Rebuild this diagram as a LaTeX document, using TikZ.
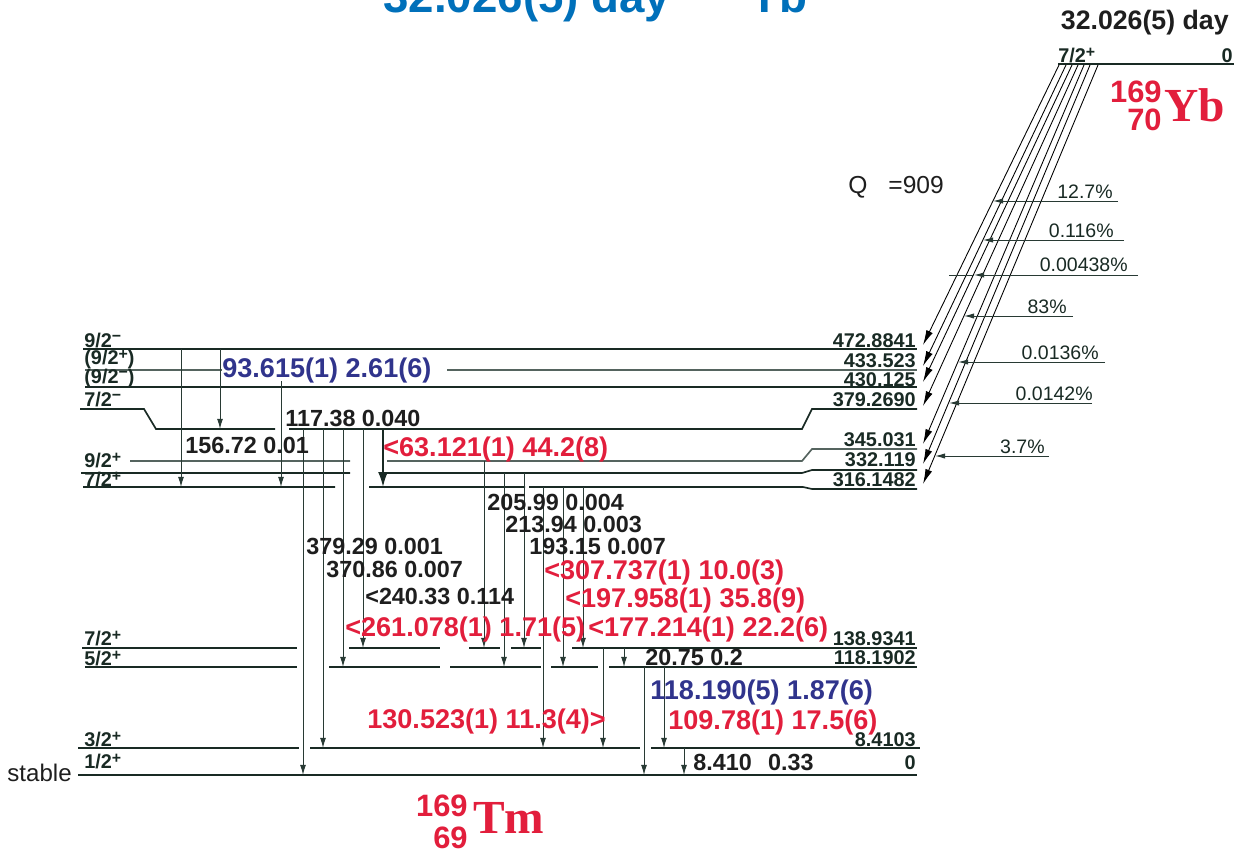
\documentclass[tikz,border=0pt]{standalone}
\usepackage{fontspec}
\setmainfont{Liberation Sans}
\newfontfamily\nucfont{Liberation Serif}
\usepackage{xcolor}
\usetikzlibrary{arrows.meta}
\definecolor{nred}{RGB}{226,30,60}
\definecolor{nblue}{RGB}{48,52,140}
\definecolor{tblue}{RGB}{0,112,186}
\definecolor{lvlc}{RGB}{25,42,36}
\definecolor{lvlg}{RGB}{85,100,95}
\definecolor{gamc}{RGB}{40,58,52}
\definecolor{txtc}{RGB}{30,30,30}
\newcommand{\sgnp}{\raisebox{0.45ex}{\scalebox{0.8}{+}}}
\newcommand{\sgnm}{\raisebox{0.55ex}{\scalebox{0.8}{−}}}
\tikzset{
  lvl/.style={draw=lvlc, line width=0.95pt},
  lvlgray/.style={draw=lvlg, line width=0.95pt},
  gam/.style={draw=gamc, line width=0.55pt, -{Latex[length=5.8pt,width=3.4pt]}},
  gamthick/.style={draw=lvlc, line width=1pt, -{Latex[length=8.5pt,width=5.6pt]}},
  beta/.style={draw=black, line width=0.5pt, -{Latex[length=8.5pt,width=4pt]}},
  intens/.style={draw=gamc, line width=0.55pt, -{Latex[length=5.7pt,width=3pt]}},
  glab/.style={font=\fontsize{13.3}{15}\selectfont\bfseries, text=txtc, inner sep=0pt, anchor=base west},
  rlab/.style={glab, font=\fontsize{15.4}{17}\selectfont\bfseries, text=nred},
  blab/.style={rlab, text=nblue},
  elab/.style={font=\fontsize{11.3}{13}\selectfont\bfseries, text=lvlc, inner sep=0pt, anchor=base east},
  slab/.style={elab, anchor=base west},
  plab/.style={font=\fontsize{11.1}{13}\selectfont, text=lvlc, inner sep=0pt, anchor=base east},
  nucnum/.style={font=\fontsize{17.6}{19}\selectfont\bfseries, text=nred, inner sep=0pt, anchor=base east},
  nucsym/.style={font=\fontsize{27}{29}\selectfont\nucfont\bfseries, text=nred, inner sep=0pt, anchor=base west},
}
\begin{document}
\begin{tikzpicture}[x=0.02cm,y=-0.02cm]
  \useasboundingbox (0,0) rectangle (1244,852);
  \clip (0,0) rectangle (1244,852);

  % title, cut at the top edge
  \node[font=\fontsize{26}{28}\selectfont\bfseries, text=tblue, inner sep=0pt, anchor=base west] (title) at (383,12) {32.026(5) day};
  \node[font=\fontsize{26}{28}\selectfont\bfseries, text=tblue, inner sep=0pt, anchor=base east] (titlenuc) at (808,12) {\textsuperscript{169}Yb};

  % parent 169Yb
  \draw[lvl] (1058,64) -- (1234,64);
  \node[slab] (pspin) at (1058,62) {7/2\sgnp};
  \node[elab] (pen) at (1233,62) {0};
  \node[font=\fontsize{15.2}{17}\selectfont\bfseries, text=txtc, inner sep=0pt, anchor=base east] (phalf) at (1229,30) {32.026(5) day};
  \node[nucnum] (ybA) at (1162,102) {169};
  \node[nucnum] (ybZ) at (1162,130) {70};
  \node[nucsym] (yb) at (1164,121) {Yb};
  \node[font=\fontsize{14}{16}\selectfont, text=txtc, inner sep=0pt, anchor=base west] (qval) at (848,193) {Q\hspace{0.85em}=909};

  % beta branches
  \foreach \bx/\by in {1059/345, 1066/366, 1072/382, 1078/406, 1084/444, 1090/464, 1098/484}
    \draw[beta] (\bx,65) -- (923,\by);
  \foreach \ix/\iy/\ie/\tx/\ty/\ip in {993/201/1118/1113/198/12.7\%, 983/240/1124/1114/237/0.116\%,
      974/275/1138/1128/271/0.00438\%, 964/316/1073/1067/313/83\%, 958/362/1105/1099/359/0.0136\%,
      949/403/1092/1093/400/0.0142\%, 935/456/1049/1045/453/3.7\%}
  {
    \draw[intens] (\ie,\iy) -- (\ix,\iy);
    \node[plab] at (\tx,\ty) {\ip};
  }
  \draw[draw=gamc, line width=0.55pt] (974,275) -- (949,275);

  % levels of 169Tm
  \draw[lvl] (83,349) -- (917,349);
  \draw[lvlgray] (85,370) -- (222,370) (447,370) -- (917,370);
  \draw[lvl] (85,387) -- (917,387);
  \draw[lvl] (80,409) -- (144,409) -- (156,429) -- (275,429) (289,429) -- (802,429) -- (812,409) -- (917,409);
  \draw[lvlgray] (130,461) -- (350,461) (387,461) -- (802,461) -- (812,449) -- (917,449);
  \draw[lvl] (81,473) -- (350,473) (387,473) -- (802,473) -- (812,470) -- (917,470);
  \draw[lvl] (83,487) -- (335,487) (369,487) -- (525,487) (529,487) -- (803,487) -- (812,489) -- (917,489);
  \draw[lvl] (82,648) -- (297,648) (349,648) -- (440,648) (469,648) -- (500,648) (511,648) -- (541,648) (572,648) -- (917,648);
  \draw[lvl] (85,667) -- (297,667) (329,667) -- (440,667) (450,667) -- (541,667) (551,667) -- (598,667) (609,667) -- (917,667);
  \draw[lvl] (78,748) -- (299,748) (310,748) -- (640,748) (651,748) -- (920,748);
  \draw[lvl] (78,775) -- (917,775);

  % spins
  \node[slab] (s472) at (84,347) {9/2\sgnm};
  \node[slab] (s433) at (84,364) {(9/2\sgnp)};
  \node[slab] (s430) at (84,383) {(9/2\sgnm)};
  \node[slab] (s379) at (84,406) {7/2\sgnm};
  \node[slab] (s345) at (84,467) {9/2\sgnp};
  \node[slab] (s316) at (84,486) {7/2\sgnp};
  \node[slab] (s139) at (84,645) {7/2\sgnp};
  \node[slab] (s118) at (84,665) {5/2\sgnp};
  \node[slab] (s8) at (84,746) {3/2\sgnp};
  \node[slab] (s0) at (84,768) {1/2\sgnp};
  \node[font=\fontsize{13.7}{15}\selectfont, text=txtc, inner sep=0pt, anchor=base east] (stable) at (72,781) {stable};

  % energies
  \node[elab] (e472) at (916,347) {472.8841};
  \node[elab] (e433) at (916,367) {433.523};
  \node[elab] (e430) at (916,386) {430.125};
  \node[elab] (e379) at (916,406) {379.2690};
  \node[elab] (e345) at (916,446) {345.031};
  \node[elab] (e332) at (916,466) {332.119};
  \node[elab] (e316) at (916,486) {316.1482};
  \node[elab] (e139) at (916,645) {138.9341};
  \node[elab] (e118) at (916,664) {118.1902};
  \node[elab] (e8) at (916,746) {8.4103};
  \node[elab] (e0) at (916,769) {0};

  % gamma transitions
  \foreach \gx/\gy/\gz in {181/349/487, 220/349/429, 281/381/487, 303/429/775, 323/429/748,
      343/429/667, 363/429/648, 484/461/648, 504/473/667, 524/473/648, 543/487/748, 563/487/667,
      583/487/648, 603/648/748, 624/648/667, 644/667/775, 664/667/748, 684/748/775}
    \draw[gam] (\gx,\gy) -- (\gx,\gz);
  \draw[gamthick] (383,429) -- (383,487);

  \node[blab] (g93) at (222,377) {93.615(1) 2.61(6)};
  \node[glab] (g117) at (285,426) {117.38 0.040};
  \node[glab] (g156) at (185,453) {156.72 0.01};
  \node[rlab] (g63) at (383,456) {<63.121(1) 44.2(8)};
  \node[glab] (g206) at (487,510) {205.99 0.004};
  \node[glab] (g214) at (505,532) {213.94 0.003};
  \node[glab] (g193) at (529,554) {193.15 0.007};
  \node[glab] (g379) at (306,554) {379.29 0.001};
  \node[glab] (g371) at (326,577) {370.86 0.007};
  \node[rlab] (g308) at (544,579) {<307.737(1) 10.0(3)};
  \node[glab] (g240) at (365,604) {<240.33 0.114};
  \node[rlab] (g198) at (565,607) {<197.958(1) 35.8(9)};
  \node[rlab] (g261) at (345,636) {<261.078(1) 1.71(5)};
  \node[rlab] (g177) at (588,636) {<177.214(1) 22.2(6)};
  \node[glab] (g21) at (645,665) {20.75 0.2};
  \node[blab] (g118) at (650,699) {118.190(5) 1.87(6)};
  \node[rlab] (g131) at (367,728) {130.523(1) 11.3(4)>};
  \node[rlab] (g110) at (668,729) {109.78(1) 17.5(6)};
  \node[glab] (g8) at (693,770) {8.410\hspace{0.7em}0.33};

  % daughter 169Tm
  \node[nucnum] (tmA) at (468,816) {169};
  \node[nucnum] (tmZ) at (468,848) {69};
  \node[nucsym] (tm) at (473,833) {Tm};
\end{tikzpicture}
\end{document}
